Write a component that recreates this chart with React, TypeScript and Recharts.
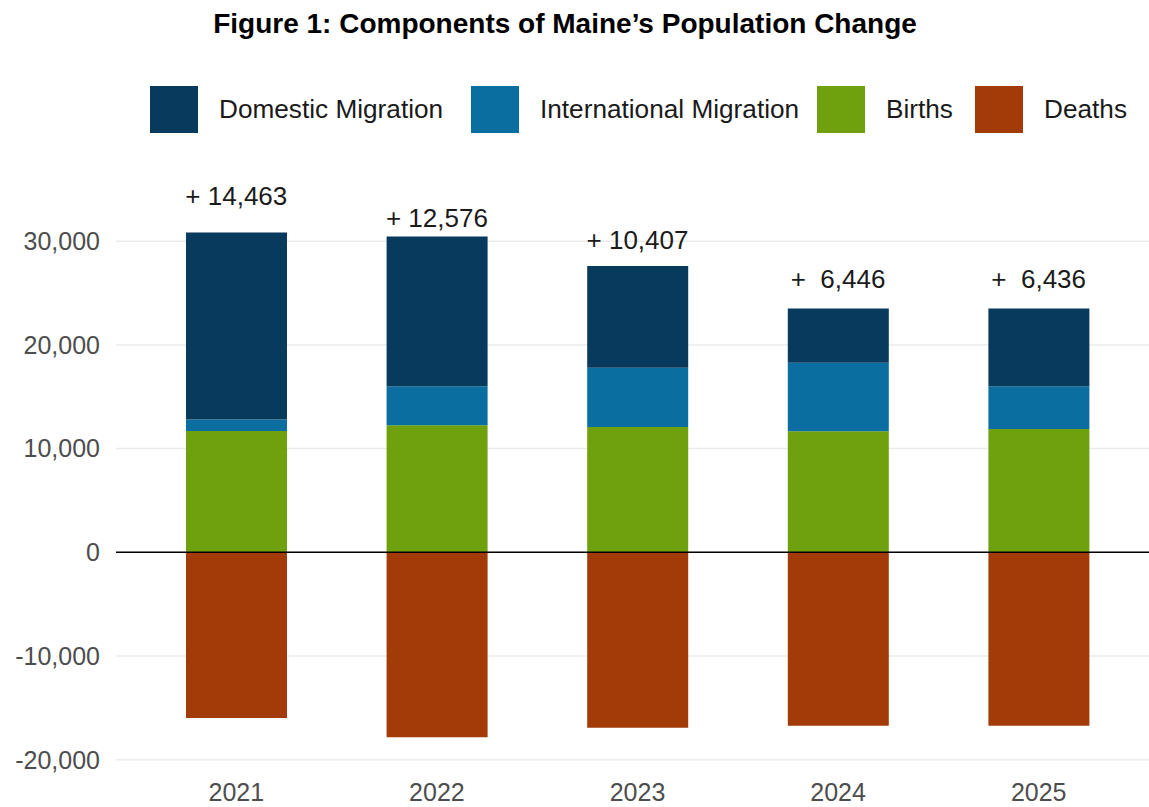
import React from 'react';
import { ComposedChart, Bar, Line, LabelList, XAxis, YAxis, CartesianGrid, ReferenceLine } from 'recharts';

// values (people)
const years = ['2021', '2022', '2023', '2024', '2025'];
const domestic = [18055, 14449, 9826, 5222, 7486];
const international = [1093, 3771, 5706, 6616, 4119];
const births = [11702, 12244, 12089, 11663, 11896];
const deaths = [-15996, -17833, -16925, -16731, -16731];
const netChange = [14463, 12576, 10407, 6446, 6436];
// where each net label sits, in data units
const netLabelY = [34360, 32230, 30110, 26330, 26330];
const yTicks = [-20000, -10000, 0, 10000, 20000, 30000];

const series = [
    { key: 'domestic', name: 'Domestic Migration', color: '#073a5c' },
    { key: 'international', name: 'International Migration', color: '#0a6fa0' },
    { key: 'births', name: 'Births', color: '#6ea10d' },
    { key: 'deaths', name: 'Deaths', color: '#a23b08' },
];
// legend key left edges (px)
const legendLeft = [150, 471, 817, 975];

const fmt = (v: number) => v.toLocaleString('en-US');

const data = years.map((year, i) => ({
    year,
    domestic: domestic[i],
    international: international[i],
    births: births[i],
    deaths: deaths[i],
    labelY: netLabelY[i],
    netText: `+ ${fmt(netChange[i]).padStart(6)}`,
}));

const FONT = '"Liberation Sans", Arial, sans-serif';

function NetLabel(props: any) {
    const { x, y, value } = props;
    return (
        <text x={x} y={y} textAnchor="middle" dominantBaseline="central" fontSize={26} fill="#1a1a1a"
            fontFamily={FONT} style={{ whiteSpace: 'pre' }}>
            {value}
        </text>
    );
}

export default function App() {
    return (
        <div style={{ position: 'relative', width: 1149, height: 807, background: '#fff', fontFamily: FONT }}>
            <style>{'body { margin: 0; }'}</style>
            <div style={{ position: 'absolute', top: 8, left: 0, width: 1130, textAlign: 'center', fontSize: 28, fontWeight: 'bold', color: '#000', lineHeight: '32px' }}>
                Figure 1: Components of Maine’s Population Change
            </div>
            {series.map((s, i) => (
                <div key={s.key} style={{ position: 'absolute', top: 86, left: legendLeft[i], height: 47, display: 'flex', alignItems: 'center', whiteSpace: 'nowrap' }}>
                    <div style={{ width: 48, height: 47, background: s.color, flexShrink: 0 }} />
                    <span style={{ marginLeft: 21, fontSize: 26.2, color: '#1a1a1a' }}>{s.name}</span>
                </div>
            ))}
            <ComposedChart width={1149} height={807} data={data} stackOffset="sign"
                margin={{ top: 179, right: 0, bottom: 0, left: 0 }}>
                <CartesianGrid vertical={false} horizontalValues={yTicks} stroke="#ebebeb" strokeWidth={1.5} />
                <XAxis dataKey="year" axisLine={false} tickLine={false} tickSize={0} tickMargin={13} height={37}
                    padding={{ left: 20, right: 10 }} tick={{ fontSize: 25, fill: '#4d4d4d', fontFamily: FONT }} />
                <YAxis domain={[-21000, 36000]} ticks={yTicks} axisLine={false} tickLine={false} tickSize={0}
                    tickMargin={16} width={116} tickFormatter={fmt} allowDataOverflow
                    tick={{ fontSize: 25, fill: '#4d4d4d', fontFamily: FONT }} />
                <Bar dataKey="births" stackId="a" fill="#6ea10d" barSize={101} isAnimationActive={false} />
                <Bar dataKey="international" stackId="a" fill="#0a6fa0" barSize={101} isAnimationActive={false} />
                <Bar dataKey="domestic" stackId="a" fill="#073a5c" barSize={101} isAnimationActive={false} />
                <Bar dataKey="deaths" stackId="a" fill="#a23b08" barSize={101} isAnimationActive={false} />
                <ReferenceLine y={0} stroke="#000" strokeWidth={1.5} />
                <Line dataKey="labelY" stroke="none" dot={false} activeDot={false} isAnimationActive={false}>
                    <LabelList dataKey="netText" content={<NetLabel />} />
                </Line>
            </ComposedChart>
        </div>
    );
}
